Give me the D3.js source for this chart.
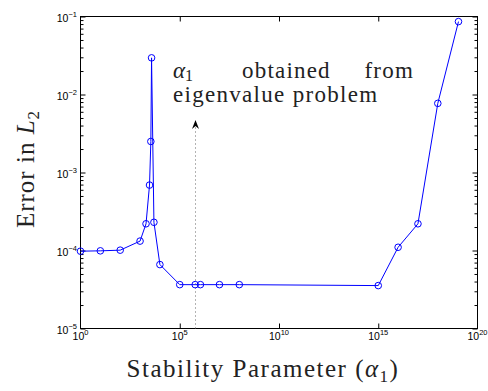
<!DOCTYPE html>
<html>
<head>
<meta charset="utf-8">
<script src="https://cdn.jsdelivr.net/npm/d3@7.9.0/dist/d3.min.js"></script>
<style>
  body { margin: 0; background: #fff; }
  svg { display: block; }
</style>
</head>
<body>
<div id="chart"></div>
<script>
// stability parameter alpha_1 and the L2 error
const alpha = [1, 10, 100, 1e3, 2e3, 3e3, 3.5e3, 3.8e3, 5e3, 1e4, 1e5, 6e5, 1.1e6, 1e7, 1e8, 1e15, 1e16, 1e17, 1e18, 1.1e19];
const errorL2 = [9.8e-5, 9.9e-5, 1.01e-4, 1.32e-4, 2.2e-4, 6.9e-4, 2.5e-3, 2.95e-2, 2.3e-4, 6.6e-5, 3.65e-5, 3.65e-5, 3.65e-5, 3.65e-5, 3.65e-5, 3.55e-5, 1.1e-4, 2.2e-4, 7.7e-3, 8.6e-2];
const xTickExp = [0, 5, 10, 15, 20];
const yTickExp = [-5, -4, -3, -2, -1];
const eigenAlpha = 6e5; // alpha_1 from the eigenvalue problem

const width = 488, height = 391;
const area = { left: 80.5, right: 477.5, top: 16.5, bottom: 328.5 };
const SANS = '"Liberation Sans", Arial, Helvetica, sans-serif';
const SERIF = '"Liberation Serif", "Times New Roman", "DejaVu Serif", serif';

const svg = d3.select('#chart').append('svg')
  .attr('width', width)
  .attr('height', height);

const xScale = d3.scaleLog().domain([1, 1e20]).range([area.left, area.right]);
const yScale = d3.scaleLog().domain([1e-5, 1e-1]).range([area.bottom, area.top]);

const xMajor = xTickExp.map(e => Math.pow(10, e));
const yMajor = yTickExp.map(e => Math.pow(10, e));
const yMinor = [];
for (let e = -5; e < -1; e++) {
  for (let m = 2; m <= 9; m++) yMinor.push(m * Math.pow(10, e));
}

// ticks (inward, mirrored on all four sides)
function drawTicks(axis, transform) {
  svg.append('g')
    .attr('transform', transform)
    .call(axis)
    .call(g => g.select('.domain').remove())
    .call(g => g.selectAll('line').attr('stroke', '#000').attr('stroke-width', 1));
}
drawTicks(d3.axisBottom(xScale).tickValues(xMajor.slice(1, -1)).tickFormat('').tickSize(-5).tickSizeOuter(0), `translate(0,${area.bottom})`);
drawTicks(d3.axisTop(xScale).tickValues(xMajor.slice(1, -1)).tickFormat('').tickSize(-5).tickSizeOuter(0), `translate(0,${area.top})`);
drawTicks(d3.axisLeft(yScale).tickValues(yMajor).tickFormat('').tickSize(-5).tickSizeOuter(0), `translate(${area.left},0)`);
drawTicks(d3.axisRight(yScale).tickValues(yMajor).tickFormat('').tickSize(-5).tickSizeOuter(0), `translate(${area.right},0)`);
drawTicks(d3.axisLeft(yScale).tickValues(yMinor).tickFormat('').tickSize(-3).tickSizeOuter(0), `translate(${area.left},0)`);
drawTicks(d3.axisRight(yScale).tickValues(yMinor).tickFormat('').tickSize(-3).tickSizeOuter(0), `translate(${area.right},0)`);

// frame
svg.append('rect')
  .attr('x', area.left).attr('y', area.top)
  .attr('width', area.right - area.left).attr('height', area.bottom - area.top)
  .attr('fill', 'none').attr('stroke', '#000').attr('stroke-width', 1);

// tick labels with superscript exponents
const yLab = svg.append('g').selectAll('text')
  .data(yTickExp)
  .join('text')
  .attr('font-family', SANS)
  .attr('font-size', 10.5)
  .attr('text-anchor', 'end')
  .attr('x', 77)
  .attr('y', d => yScale(Math.pow(10, d)) + 5);
yLab.append('tspan').text('10');
yLab.append('tspan').attr('dy', -5).attr('font-size', 7.5).text(d => '\u2212' + Math.abs(d));

const xLab = svg.append('g').selectAll('text')
  .data(xTickExp)
  .join('text')
  .attr('font-family', SANS)
  .attr('font-size', 10.5)
  .attr('text-anchor', 'middle')
  .attr('x', d => xScale(Math.pow(10, d)))
  .attr('y', 340);
xLab.append('tspan').text('10');
xLab.append('tspan').attr('dy', -5).attr('font-size', 7.5).text(d => d);

// dotted marker line with arrow
const ax = Math.round(xScale(eigenAlpha)) + 0.5;
svg.append('line')
  .attr('x1', ax).attr('x2', ax)
  .attr('y1', area.bottom).attr('y2', 127)
  .attr('stroke', '#666').attr('stroke-width', 1)
  .attr('stroke-dasharray', '1,3');
svg.append('path')
  .attr('d', `M${ax},120 L${ax - 3.5},129 L${ax},126 L${ax + 3.5},129 Z`)
  .attr('fill', '#000');

// data line and markers
const pts = alpha.map((a, i) => [a, errorL2[i]]);
const line = d3.line().x(d => xScale(d[0])).y(d => yScale(d[1]));
svg.append('path')
  .datum(pts)
  .attr('d', line)
  .attr('fill', 'none')
  .attr('stroke', '#0000ff')
  .attr('stroke-width', 1);
svg.append('g').selectAll('circle')
  .data(pts)
  .join('circle')
  .attr('cx', d => xScale(d[0]))
  .attr('cy', d => yScale(d[1]))
  .attr('r', 3.3)
  .attr('fill', 'none')
  .attr('stroke', '#0000ff')
  .attr('stroke-width', 1);

// annotation
function serifText(x, y, size) {
  return svg.append('text')
    .attr('font-family', SERIF)
    .attr('font-size', size)
    .attr('fill', '#222')
    .attr('x', x).attr('y', y);
}
const a1 = serifText(173, 78, 23);
a1.append('tspan').attr('font-style', 'italic').text('α');
a1.append('tspan').attr('dy', 3).attr('font-size', 16).text('1');
serifText(242, 78, 23).attr('letter-spacing', 1.2).text('obtained');
serifText(414, 78, 23).attr('text-anchor', 'end').attr('letter-spacing', 1.2).text('from');
serifText(173, 102, 23).attr('letter-spacing', 1.3).text('eigenvalue problem');

// axis titles
const xt = serifText(263, 377, 25)
  .attr('text-anchor', 'middle')
  .attr('letter-spacing', 1.5);
xt.append('tspan').text('Stability Parameter (');
xt.append('tspan').attr('font-style', 'italic').text('α');
xt.append('tspan').attr('dy', 5).attr('font-size', 17).text('1');
xt.append('tspan').attr('dy', -5).text(')');

const yt = serifText(0, 0, 25)
  .attr('transform', 'translate(34,169) rotate(-90)')
  .attr('text-anchor', 'middle')
  .attr('letter-spacing', 1);
yt.append('tspan').text('Error in ');
yt.append('tspan').attr('font-style', 'italic').text('L');
yt.append('tspan').attr('dy', 5).attr('font-size', 17).text('2');
</script>
</body>
</html>
